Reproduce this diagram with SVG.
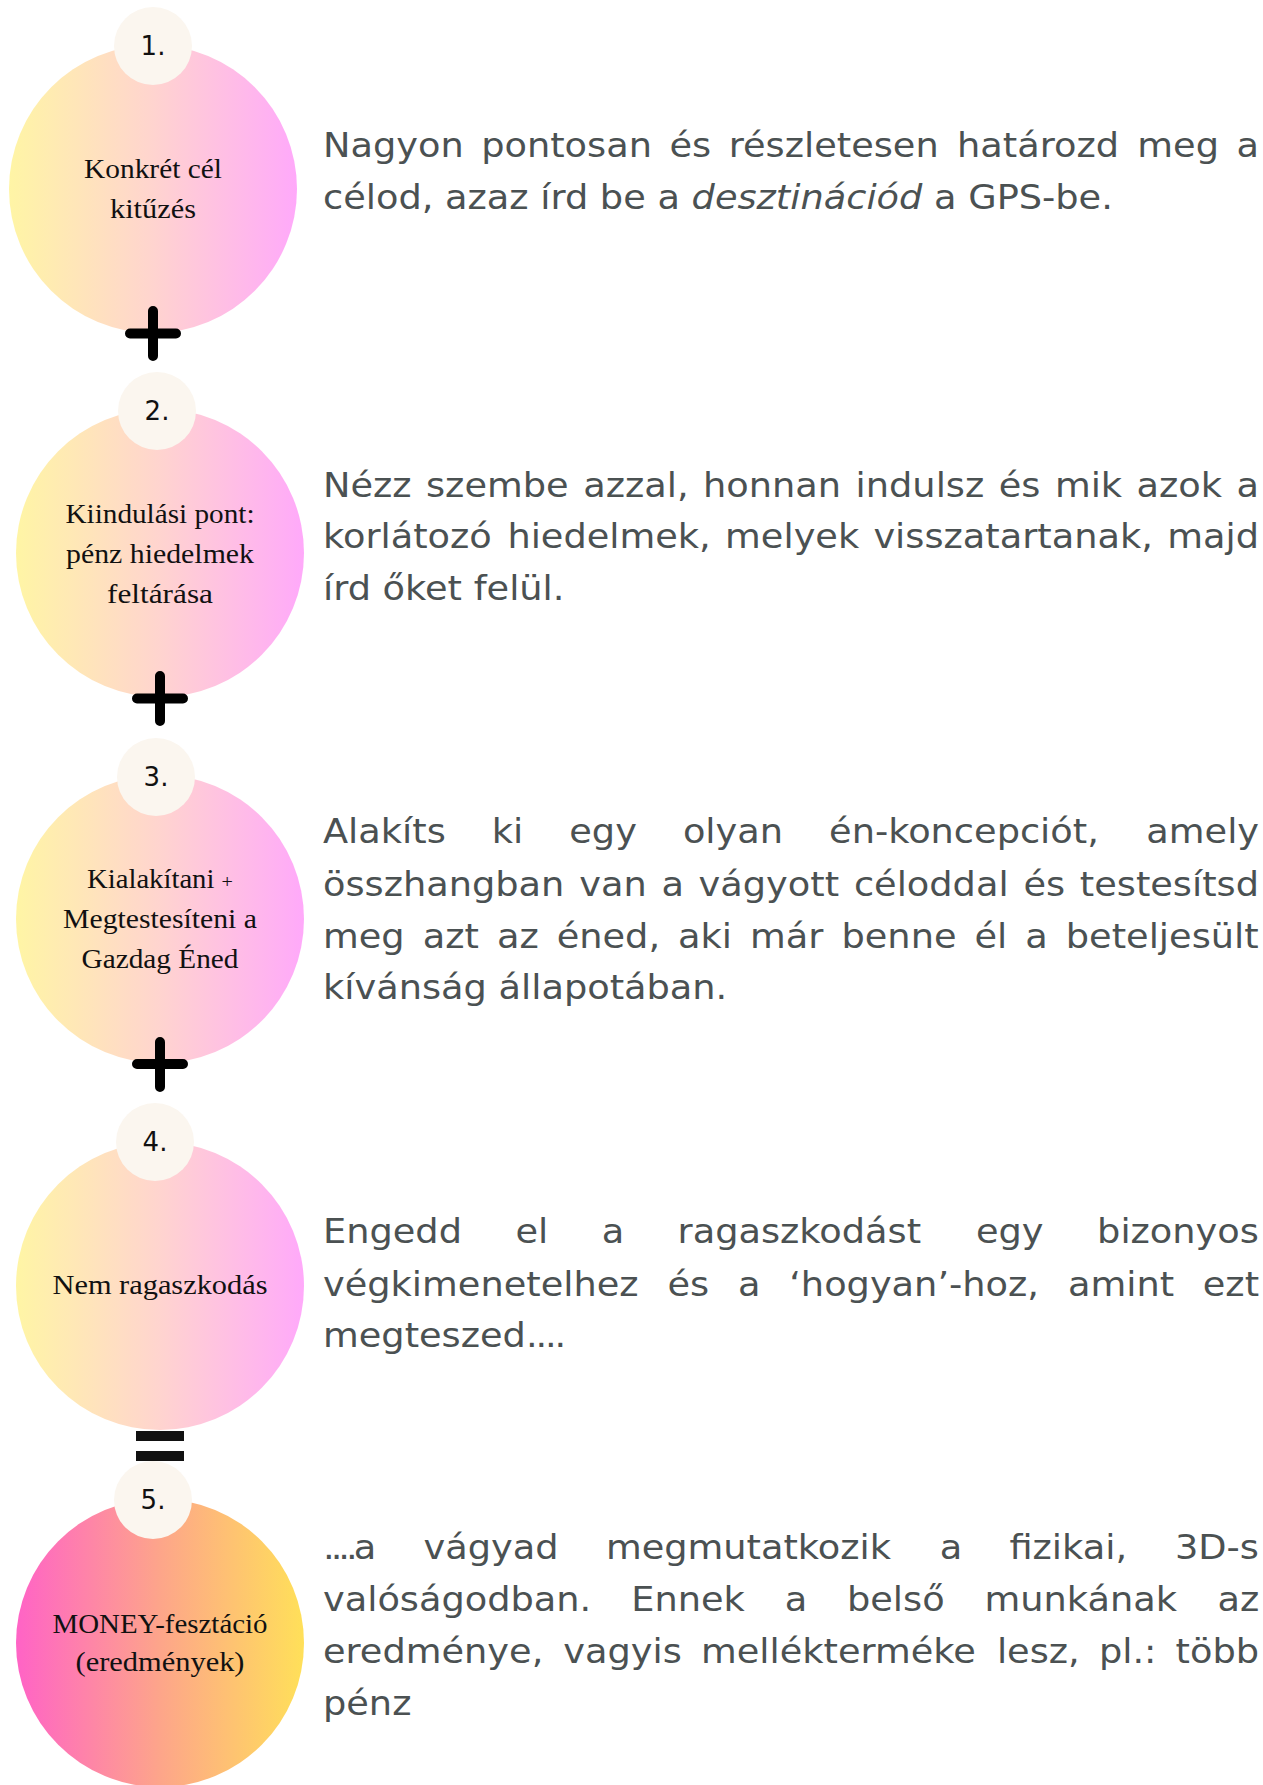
<svg xmlns="http://www.w3.org/2000/svg" width="1263" height="1785" viewBox="0 0 1263 1785">
<defs>
<linearGradient id="gSoft" x1="0" y1="0" x2="1" y2="0">
<stop offset="0" stop-color="#FFF5A5"/>
<stop offset="0.5" stop-color="#FFD4CF"/>
<stop offset="1" stop-color="#FFA9FA"/>
</linearGradient>
<linearGradient id="gHot" x1="0" y1="0" x2="1" y2="0">
<stop offset="0" stop-color="#FF63C6"/>
<stop offset="0.5" stop-color="#FDA58A"/>
<stop offset="1" stop-color="#FFE059"/>
</linearGradient>
<style>
.lbl{font-family:"Liberation Serif","Times New Roman",serif;font-size:27px;fill:#111;text-anchor:middle}
.num{font-family:"DejaVu Sans","Liberation Sans",sans-serif;font-size:26px;fill:#111;text-anchor:middle}
.desc{font-family:"DejaVu Sans","Liberation Sans",sans-serif;font-size:34px;fill:#4b5152}
.badge{fill:#FBF6EF}
.op{stroke:#000;stroke-width:10;stroke-linecap:round;fill:none}
.eq{fill:#111}
</style>
</defs>
<rect width="1263" height="1785" fill="#fff"/>

<g id="step1">
<circle cx="153" cy="189" r="144" fill="url(#gSoft)"/>
<circle class="badge" cx="153" cy="46" r="39"/>
<text class="num" x="153" y="55">1.</text>
<text class="lbl" x="153" y="178" textLength="138" lengthAdjust="spacingAndGlyphs">Konkrét cél</text>
<text class="lbl" x="153" y="218" textLength="86" lengthAdjust="spacingAndGlyphs">kitűzés</text>
<text class="desc" y="157" transform="scale(1.08 1)"><tspan x="299.07">Nagyon</tspan><tspan x="445.56">pontosan</tspan><tspan x="619.91">és</tspan><tspan x="674.72">részletesen</tspan><tspan x="886.11">határozd</tspan><tspan x="1053.06">meg</tspan><tspan x="1144.91">a</tspan></text>
<text class="desc" x="299.07" y="209" transform="scale(1.08 1)">célod, azaz írd be a <tspan font-style="italic">desztinációd</tspan> a GPS-be.</text>
</g>

<g id="step2">
<circle cx="160" cy="553" r="144" fill="url(#gSoft)"/>
<circle class="badge" cx="157" cy="411" r="39"/>
<text class="num" x="157" y="420">2.</text>
<text class="lbl" x="160" y="523" textLength="189" lengthAdjust="spacingAndGlyphs">Kiindulási pont:</text>
<text class="lbl" x="160" y="563" textLength="188" lengthAdjust="spacingAndGlyphs">pénz hiedelmek</text>
<text class="lbl" x="160" y="603" textLength="106" lengthAdjust="spacingAndGlyphs">feltárása</text>
<text class="desc" y="497" transform="scale(1.08 1)"><tspan x="299.07">Nézz</tspan><tspan x="394.44">szembe</tspan><tspan x="540.0">azzal,</tspan><tspan x="651.02">honnan</tspan><tspan x="792.22">indulsz</tspan><tspan x="924.72">és</tspan><tspan x="976.76">mik</tspan><tspan x="1052.31">azok</tspan><tspan x="1144.91">a</tspan></text>
<text class="desc" y="548" transform="scale(1.08 1)"><tspan x="299.07">korlátozó</tspan><tspan x="469.81">hiedelmek,</tspan><tspan x="671.39">melyek</tspan><tspan x="808.70">visszatartanak,</tspan><tspan x="1080.74">majd</tspan></text>
<text class="desc" x="299.07" y="600" transform="scale(1.08 1)">írd őket felül.</text>
</g>

<g id="step3">
<circle cx="160" cy="919" r="144" fill="url(#gSoft)"/>
<circle class="badge" cx="156" cy="777" r="39"/>
<text class="num" x="156" y="786">3.</text>
<text class="lbl" x="160" y="888" textLength="146" lengthAdjust="spacingAndGlyphs">Kialakítani <tspan font-size="19">+</tspan></text>
<text class="lbl" x="160" y="928" textLength="194" lengthAdjust="spacingAndGlyphs">Megtestesíteni a</text>
<text class="lbl" x="160" y="968" textLength="157" lengthAdjust="spacingAndGlyphs">Gazdag Éned</text>
<text class="desc" y="843" transform="scale(1.08 1)"><tspan x="299.07">Alakíts</tspan><tspan x="455.37">ki</tspan><tspan x="527.13">egy</tspan><tspan x="632.31">olyan</tspan><tspan x="767.69">én-koncepciót,</tspan><tspan x="1061.39">amely</tspan></text>
<text class="desc" y="896" transform="scale(1.08 1)"><tspan x="299.07">összhangban</tspan><tspan x="536.30">van</tspan><tspan x="612.41">a</tspan><tspan x="646.85">vágyott</tspan><tspan x="790.65">céloddal</tspan><tspan x="947.59">és</tspan><tspan x="999.81">testesítsd</tspan></text>
<text class="desc" y="948" transform="scale(1.08 1)"><tspan x="299.07">meg</tspan><tspan x="391.39">azt</tspan><tspan x="460.09">az</tspan><tspan x="515.46">éned,</tspan><tspan x="627.87">aki</tspan><tspan x="694.54">már</tspan><tspan x="779.17">benne</tspan><tspan x="902.31">él</tspan><tspan x="949.35">a</tspan><tspan x="986.85">beteljesült</tspan></text>
<text class="desc" x="299.07" y="999" transform="scale(1.08 1)">kívánság állapotában.</text>
</g>

<g id="step4">
<circle cx="160" cy="1286" r="144" fill="url(#gSoft)"/>
<circle class="badge" cx="155" cy="1142" r="39"/>
<text class="num" x="155" y="1151">4.</text>
<text class="lbl" x="160" y="1294" textLength="215" lengthAdjust="spacingAndGlyphs">Nem ragaszkodás</text>
<text class="desc" y="1243" transform="scale(1.08 1)"><tspan x="299.07">Engedd</tspan><tspan x="477.22">el</tspan><tspan x="557.13">a</tspan><tspan x="627.41">ragaszkodást</tspan><tspan x="903.70">egy</tspan><tspan x="1015.83">bizonyos</tspan></text>
<text class="desc" y="1296" transform="scale(1.08 1)"><tspan x="299.07">végkimenetelhez</tspan><tspan x="617.96">és</tspan><tspan x="683.24">a</tspan><tspan x="730.74">‘hogyan’-hoz,</tspan><tspan x="988.89">amint</tspan><tspan x="1113.70">ezt</tspan></text>
<text class="desc" x="299.07" y="1347" transform="scale(1.08 1)">megteszed<tspan letter-spacing="-2">....</tspan></text>
</g>

<g id="step5">
<circle cx="160" cy="1643" r="144" fill="url(#gHot)"/>
<circle class="badge" cx="153" cy="1500" r="39"/>
<text class="num" x="153" y="1509">5.</text>
<text class="lbl" x="160" y="1633" textLength="215" lengthAdjust="spacingAndGlyphs">MONEY-fesztáció</text>
<text class="lbl" x="160" y="1671" textLength="169" lengthAdjust="spacingAndGlyphs">(eredmények)</text>
<text class="desc" y="1559" transform="scale(1.08 1)"><tspan x="299.07"><tspan letter-spacing="-3.7">....</tspan>a</tspan><tspan x="392.13">vágyad</tspan><tspan x="561.02">megmutatkozik</tspan><tspan x="870.09">a</tspan><tspan x="934.72">fizikai,</tspan><tspan x="1087.96">3D-s</tspan></text>
<text class="desc" y="1611" transform="scale(1.08 1)"><tspan x="299.07">valóságodban.</tspan><tspan x="584.54">Ennek</tspan><tspan x="726.57">a</tspan><tspan x="784.26">belső</tspan><tspan x="911.57">munkának</tspan><tspan x="1127.22">az</tspan></text>
<text class="desc" y="1663" transform="scale(1.08 1)"><tspan x="299.07">eredménye,</tspan><tspan x="521.57">vagyis</tspan><tspan x="649.07">mellékterméke</tspan><tspan x="923.06">lesz,</tspan><tspan x="1017.5">pl.:</tspan><tspan x="1088.52">több</tspan></text>
<text class="desc" x="299.07" y="1715" transform="scale(1.08 1)">pénz</text>
</g>

<g id="connectors">
<path class="op" d="M153 311V356M130 333.5H176"/>
<path class="op" d="M160 676V721M137 698.5H183"/>
<path class="op" d="M160 1042V1087M137 1064H183"/>
<rect class="eq" x="136" y="1431" width="48" height="10"/>
<rect class="eq" x="136" y="1451" width="48" height="10"/>
</g>
</svg>
